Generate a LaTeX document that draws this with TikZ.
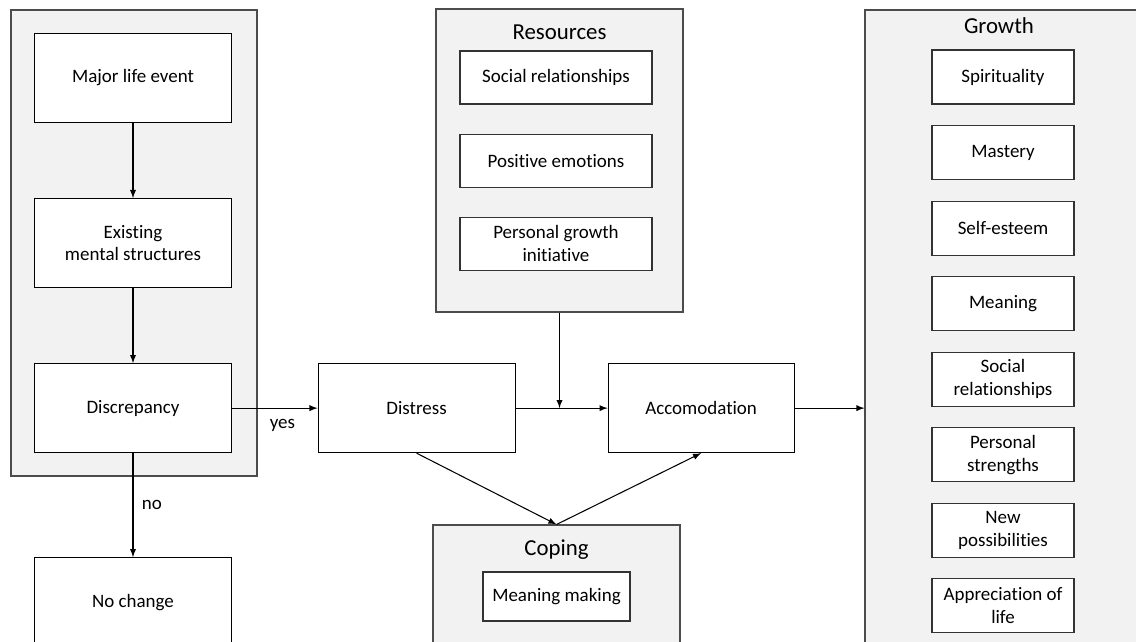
\documentclass[tikz,border=0pt]{standalone}
\usepackage{fontspec}
\setmainfont{Carlito}[Ligatures=NoCommon]
\usetikzlibrary{arrows,positioning}
\tikzset{
every node/.style={font=\fontsize{10.8}{13}\selectfont},
style1/.style= {rectangle, draw=black, align=center, fill=white, minimum width=39.4mm, minimum height=17.8mm},
style2/.style= {rectangle, draw=black!80, align=center, fill=white, inner sep=1pt},
style3/.style= {rectangle, draw=black!70, fill=black!5},
style4/.style= {font=\fontsize{13}{15}\selectfont}
}

\begin{document}
\begin{tikzpicture}[
x=0.2mm, y=-0.2mm,
line width=0.6pt,
>=latex]

\useasboundingbox (0,0) rectangle (1136,641);
\clip (0,0) rectangle (1136,641);

% grey groups
\node[style3, minimum width=49.2mm, minimum height=93.2mm] (life) at (134,243) {};
\node[style3, minimum width=49.4mm, minimum height=60.6mm] (res) at (559.5,160.5) {};
\node[style3, minimum width=49.4mm, minimum height=35mm] (cop) at (556.5,612.5) {};
\node[style3, minimum width=67mm, minimum height=138mm] (grow) at (1032.5,355) {};

\node[style4, yshift=-4.8mm] (restitle) at (res.north) {Resources};
\node[style4, yshift=-5mm] (coptitle) at (cop.north) {Coping};
\node[style4] (growtitle) at (999,26) {Growth};

% main path
\node[style1] (major) at (133,78) {Major life event};
\node[style1, below=15mm of major] (exist) {Existing\\mental structures};
\node[style1, below=15mm of exist] (disc) {Discrepancy};
\node[style1, below=20.8mm of disc] (nochange) {No change};
\node[style1, right=17.1mm of disc] (distress) {Distress};
\node[style1, minimum width=37.2mm, right=18.4mm of distress] (accom) {Accomodation};

% resources
\node[style2, minimum width=38.4mm, minimum height=10.6mm] (r1) at (556,77.5) {Social relationships};
\node[style2, minimum width=38.4mm, minimum height=10.6mm, below=5.8mm of r1] (r2) {Positive emotions};
\node[style2, minimum width=38.4mm, minimum height=10.6mm, below=5.8mm of r2] (r3) {Personal growth\\initiative};

% coping
\node[style2, minimum width=29.4mm, minimum height=9.8mm] (c1) at (556.5,596.5) {Meaning making};

% growth
\node[style2, minimum width=28.4mm, minimum height=10.8mm] (g1) at (1003,77) {Spirituality};
\foreach \i/\txt [count=\j from 1] in {2/Mastery, 3/Self-esteem, 4/Meaning, 5/{Social\\relationships}, 6/{Personal\\strengths}, 7/{New\\possibilities}, 8/{Appreciation of\\life}}
  \node[style2, minimum width=28.4mm, minimum height=10.8mm, below=4.1mm of g\j] (g\i) {\txt};

\draw[->] (major) -- (exist);
\draw[->] (exist) -- (disc);
\draw[->] (disc) -- node[right=0.5mm] {no} (nochange);
\draw[->] (disc) -- node[below=1mm, pos=0.59] {yes} (distress);
\draw[->] (distress) -- (accom);
\draw[->] (res.south) -- (res.south |- distress.east);
\draw[->] (distress.south) -- (cop.north);
\draw[->] (cop.north) -- (accom.south);
\draw[->] (accom) -- (accom -| grow.west);
\end{tikzpicture}
\end{document}
